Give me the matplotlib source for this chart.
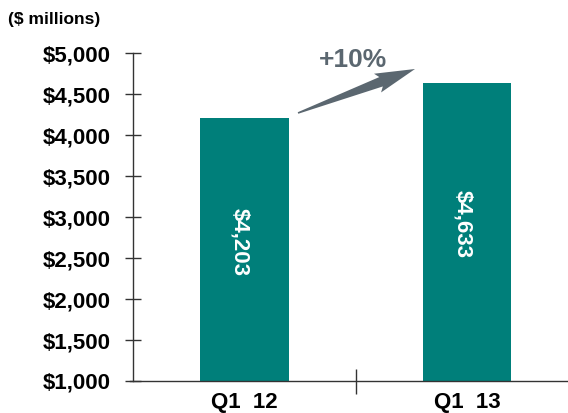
import matplotlib.pyplot as plt
import numpy as np
from matplotlib.patches import Polygon

categories = ["Q1  12", "Q1  13"]
revenue = [4203, 4633]
bar_labels = ["$4,203", "$4,633"]
yticks = [1000, 1500, 2000, 2500, 3000, 3500, 4000, 4500, 5000]
growth_label = "+10%"

plt.rcParams['font.family'] = ['Liberation Sans', 'DejaVu Sans']

teal = '#007f7a'
grey = '#5b6770'
axis_col = '#333333'

W, H = 568, 413
fig = plt.figure(figsize=(W / 100, H / 100), dpi=100)
ax = fig.add_axes([0.2342, 0.0775, 0.785, 0.794])

x = np.arange(len(categories))
base = 1000
ax.bar(x, np.array(revenue) - base, bottom=base, width=0.395, color=teal)

for xi, v, lab in zip(x, revenue, bar_labels):
    ax.text(xi - 0.02, (base + v) / 2 + 100, lab, rotation=-90, color='white',
            fontsize=16, fontweight='bold', ha='center', va='center')

ax.set_xlim(-0.5, 1.5)
ax.set_ylim(1000, 5000)
ax.set_yticks(yticks)
ax.set_yticklabels([f"${t:,}" for t in yticks], fontsize=16, fontweight='bold')
ax.tick_params(axis='y', direction='inout', length=12, width=1, color=axis_col, pad=10)

# category labels sit between the divider ticks
ax.set_xticks([0.5])
ax.set_xticklabels([''])
ax.tick_params(axis='x', direction='inout', length=18, width=1, color=axis_col)
for xi, c in zip(x, categories):
    ax.text(xi, -0.035, c, transform=ax.get_xaxis_transform(), ha='center', va='top',
            fontsize=16, fontweight='bold')

for s in ['top', 'right']:
    ax.spines[s].set_visible(False)
for s in ['left', 'bottom']:
    ax.spines[s].set_color(axis_col)
    ax.spines[s].set_linewidth(1)
ax.spines['bottom'].set_bounds(-0.515, 1.5)

# growth arrow: tapered tail, drawn as a polygon (pixel coords, y up)
start = np.array([298.0, H - 113.0])
tip = np.array([415.0, H - 69.0])
vec = tip - start
L = np.hypot(*vec)
d = vec / L
n = np.array([-d[1], d[0]])
head_s = 0.71
pts = [
    start + n * 0.8,
    start + d * L * head_s + n * 5.0,
    start + d * L * (head_s - 0.03) + n * 10.0,
    tip,
    start + d * L * (head_s - 0.03) - n * 10.0,
    start + d * L * head_s - n * 5.0,
    start - n * 0.8,
]
pts = np.array(pts) / np.array([W, H])
fig.add_artist(Polygon(pts, closed=True, transform=fig.transFigure,
                       facecolor=grey, edgecolor='none'))

ax.text(0.493, 0.978, growth_label, transform=ax.transAxes, ha='center', va='center',
        fontsize=19, fontweight='bold', color=grey, clip_on=False)

fig.text(0.014, 0.952, "($ millions)", fontsize=12.5, fontweight='bold', ha='left', va='center')

fig.savefig('out.png', dpi=100)
